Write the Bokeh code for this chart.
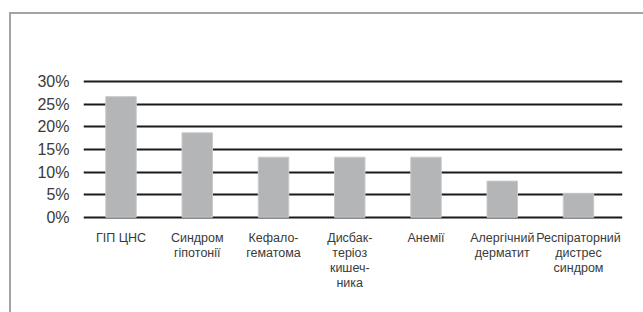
from bokeh.plotting import figure
from bokeh.models import Range1d, FixedTicker
from bokeh.embed import file_html
from bokeh.resources import INLINE

categories = ["ГІП ЦНС", "Синдром\nгіпотонії", "Кефало-\nгематома",
              "Дисбак-\nтеріоз\nкишеч-\nника", "Анемії",
              "Алергічний\nдерматит", "Респіраторний\nдистрес\nсиндром"]
values = [26.7, 18.7, 13.3, 13.3, 13.3, 8.0, 5.3]
y_ticks = [0, 5, 10, 15, 20, 25, 30]
y_tick_labels = ["0%", "5%", "10%", "15%", "20%", "25%", "30%"]

xs = list(range(len(categories)))

p = figure(width=643, height=312, output_backend="svg", toolbar_location=None,
           x_range=Range1d(-0.492, 6.577), y_range=Range1d(-0.5, 30.5),
           min_border_left=83, min_border_right=21, min_border_top=79,
           min_border_bottom=93)
p.outline_line_color = None
p.background_fill_color = None
p.border_fill_color = None

p.vbar(x=xs, top=values, width=0.4, bottom=0, fill_color="#b4b5b7",
       line_color="#c9cacc", line_width=1)

p.xaxis.ticker = FixedTicker(ticks=xs)
p.xaxis.major_label_overrides = {i: c for i, c in zip(xs, categories)}
p.yaxis.ticker = FixedTicker(ticks=y_ticks)
p.yaxis.major_label_overrides = {t: l for t, l in zip(y_ticks, y_tick_labels)}
for ax in (p.xaxis, p.yaxis):
    ax.axis_line_color = None
    ax.major_tick_line_color = None
    ax.minor_tick_line_color = None
    ax.major_label_text_font = "Liberation Sans"
    ax.major_label_text_color = "#3a3a3a"
p.yaxis.major_label_text_font_size = "16px"
p.yaxis.major_label_standoff = 8
p.xaxis.major_label_text_font_size = "12.5px"
p.xaxis.major_label_standoff = 5
p.xaxis.major_label_text_line_height = 1.08

p.xgrid.grid_line_color = None
p.ygrid.ticker = FixedTicker(ticks=y_ticks)
p.ygrid.grid_line_color = "#1a1a1a"
p.ygrid.grid_line_width = 2

p.styles = {
    "background-color": "white",
    "box-shadow": "inset 9px 12px 0 0 white, inset 11px 14px 0 0 #a3a3a3",
}

open("out.html", "w").write(file_html(p, INLINE))
